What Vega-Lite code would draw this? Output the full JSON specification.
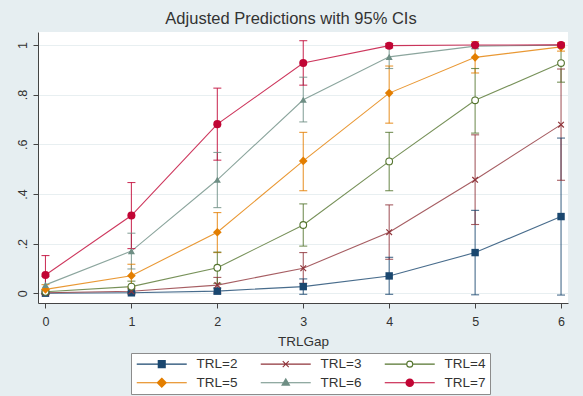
{
  "$schema": "https://vega.github.io/schema/vega-lite/v6.json",
  "autosize": "none",
  "width": 530,
  "height": 271,
  "padding": {"left": 38, "top": 32, "right": 15, "bottom": 93},
  "background": "#E6EEF1",
  "title": {
    "text": "Adjusted Predictions with 95% CIs",
    "fontSize": 16.5,
    "font": "Liberation Sans",
    "fontWeight": "normal",
    "color": "#333333",
    "anchor": "middle",
    "baseline": "alphabetic",
    "dx": -12,
    "dy": 14,
    "offset": 6
  },
  "config": {
    "view": {"fill": "white", "stroke": null},
    "font": "Liberation Sans",
    "axis": {
      "domainColor": "#444444",
      "tickColor": "#444444",
      "labelColor": "#333333",
      "titleColor": "#333333",
      "labelFont": "Liberation Sans",
      "titleFont": "Liberation Sans",
      "titleFontWeight": "normal"
    }
  },
  "data": {
    "values": [
      {"TRL": "TRL=2", "gap": 0, "p": 0.0005, "lo": -0.0005, "hi": 0.0015},
      {"TRL": "TRL=2", "gap": 1, "p": 0.002, "lo": -0.001, "hi": 0.005},
      {"TRL": "TRL=2", "gap": 2, "p": 0.009, "lo": -0.003, "hi": 0.021},
      {"TRL": "TRL=2", "gap": 3, "p": 0.027, "lo": -0.004, "hi": 0.058},
      {"TRL": "TRL=2", "gap": 4, "p": 0.070, "lo": -0.004, "hi": 0.145},
      {"TRL": "TRL=2", "gap": 5, "p": 0.164, "lo": -0.006, "hi": 0.334},
      {"TRL": "TRL=2", "gap": 6, "p": 0.309, "lo": -0.007, "hi": 0.625},
      {"TRL": "TRL=3", "gap": 0, "p": 0.002, "lo": -0.002, "hi": 0.006},
      {"TRL": "TRL=3", "gap": 1, "p": 0.008, "lo": -0.003, "hi": 0.019},
      {"TRL": "TRL=3", "gap": 2, "p": 0.033, "lo": 0.002, "hi": 0.064},
      {"TRL": "TRL=3", "gap": 3, "p": 0.101, "lo": 0.040, "hi": 0.164},
      {"TRL": "TRL=3", "gap": 4, "p": 0.246, "lo": 0.137, "hi": 0.356},
      {"TRL": "TRL=3", "gap": 5, "p": 0.457, "lo": 0.277, "hi": 0.638},
      {"TRL": "TRL=3", "gap": 6, "p": 0.679, "lo": 0.455, "hi": 0.903},
      {"TRL": "TRL=4", "gap": 0, "p": 0.006, "lo": -0.002, "hi": 0.014},
      {"TRL": "TRL=4", "gap": 1, "p": 0.027, "lo": 0.005, "hi": 0.049},
      {"TRL": "TRL=4", "gap": 2, "p": 0.103, "lo": 0.040, "hi": 0.166},
      {"TRL": "TRL=4", "gap": 3, "p": 0.275, "lo": 0.190, "hi": 0.360},
      {"TRL": "TRL=4", "gap": 4, "p": 0.531, "lo": 0.413, "hi": 0.648},
      {"TRL": "TRL=4", "gap": 5, "p": 0.777, "lo": 0.645, "hi": 0.905},
      {"TRL": "TRL=4", "gap": 6, "p": 0.927, "lo": 0.850, "hi": 1.004},
      {"TRL": "TRL=5", "gap": 0, "p": 0.016, "lo": -0.003, "hi": 0.035},
      {"TRL": "TRL=5", "gap": 1, "p": 0.071, "lo": 0.025, "hi": 0.117},
      {"TRL": "TRL=5", "gap": 2, "p": 0.246, "lo": 0.164, "hi": 0.325},
      {"TRL": "TRL=5", "gap": 3, "p": 0.533, "lo": 0.413, "hi": 0.648},
      {"TRL": "TRL=5", "gap": 4, "p": 0.806, "lo": 0.685, "hi": 0.915},
      {"TRL": "TRL=5", "gap": 5, "p": 0.950, "lo": 0.887, "hi": 1.013},
      {"TRL": "TRL=5", "gap": 6, "p": 0.992, "lo": 0.975, "hi": 1.009},
      {"TRL": "TRL=6", "gap": 0, "p": 0.034, "lo": 0.000, "hi": 0.068},
      {"TRL": "TRL=6", "gap": 1, "p": 0.170, "lo": 0.098, "hi": 0.242},
      {"TRL": "TRL=6", "gap": 2, "p": 0.457, "lo": 0.345, "hi": 0.567},
      {"TRL": "TRL=6", "gap": 3, "p": 0.779, "lo": 0.690, "hi": 0.870},
      {"TRL": "TRL=6", "gap": 4, "p": 0.952, "lo": 0.905, "hi": 0.999},
      {"TRL": "TRL=6", "gap": 5, "p": 0.995, "lo": 0.985, "hi": 1.005},
      {"TRL": "TRL=6", "gap": 6, "p": 0.999, "lo": 0.996, "hi": 1.002},
      {"TRL": "TRL=7", "gap": 0, "p": 0.074, "lo": -0.004, "hi": 0.152},
      {"TRL": "TRL=7", "gap": 1, "p": 0.313, "lo": 0.180, "hi": 0.446},
      {"TRL": "TRL=7", "gap": 2, "p": 0.681, "lo": 0.536, "hi": 0.826},
      {"TRL": "TRL=7", "gap": 3, "p": 0.927, "lo": 0.838, "hi": 1.017},
      {"TRL": "TRL=7", "gap": 4, "p": 0.997, "lo": 0.988, "hi": 1.006},
      {"TRL": "TRL=7", "gap": 5, "p": 0.9995, "lo": 0.998, "hi": 1.001},
      {"TRL": "TRL=7", "gap": 6, "p": 1.0, "lo": 0.9995, "hi": 1.0005}
    ]
  },
  "encoding": {
    "x": {
      "field": "gap",
      "type": "quantitative",
      "scale": {"domain": [-0.087, 6.081], "nice": false, "zero": false},
      "axis": {
        "title": "TRLGap",
        "values": [0, 1, 2, 3, 4, 5, 6],
        "format": "d",
        "grid": false,
        "tickSize": 5,
        "labelFontSize": 12.5,
        "labelPadding": 7,
        "titleFontSize": 13.5,
        "titlePadding": 7
      }
    }
  },
  "layer": [
    {
      "mark": {"type": "line", "strokeWidth": 1.1, "opacity": 0.8},
      "encoding": {
        "y": {
          "field": "p",
          "type": "quantitative",
          "scale": {"domain": [-0.039, 1.052], "nice": false, "zero": false},
          "axis": {
            "title": null,
            "values": [0, 0.2, 0.4, 0.6, 0.8, 1],
            "labelExpr": "datum.value > 0 && datum.value < 1 ? '.' + format(datum.value * 10, '.0f') : format(datum.value, '.0f')",
            "grid": true,
            "gridColor": "#E8EFF1",
            "gridWidth": 1,
            "tickSize": 5,
            "labelAngle": -90,
            "labelAlign": "center",
            "labelBaseline": "alphabetic",
            "labelFontSize": 12.5,
            "labelPadding": 7
          }
        },
        "color": {
          "field": "TRL",
          "type": "nominal",
          "scale": {
            "domain": ["TRL=7", "TRL=6", "TRL=5", "TRL=4", "TRL=3", "TRL=2"],
            "range": ["#C10534", "#6E8E84", "#E37E00", "#55752F", "#90353B", "#1A476F"]
          },
          "legend": null
        }
      }
    },
    {
      "mark": {"type": "rule", "strokeWidth": 1.1, "opacity": 0.8},
      "encoding": {
        "y": {"field": "lo", "type": "quantitative"},
        "y2": {"field": "hi"},
        "color": {"field": "TRL", "type": "nominal", "legend": null}
      }
    },
    {
      "mark": {"type": "tick", "orient": "horizontal", "size": 8, "thickness": 1.1, "opacity": 0.8},
      "encoding": {
        "y": {"field": "lo", "type": "quantitative"},
        "color": {"field": "TRL", "type": "nominal", "legend": null}
      }
    },
    {
      "mark": {"type": "tick", "orient": "horizontal", "size": 8, "thickness": 1.1, "opacity": 0.8},
      "encoding": {
        "y": {"field": "hi", "type": "quantitative"},
        "color": {"field": "TRL", "type": "nominal", "legend": null}
      }
    },
    {
      "transform": [{"filter": "datum.TRL === 'TRL=2'"}],
      "mark": {"type": "point", "shape": "square", "filled": true, "opacity": 1, "size": 55},
      "encoding": {
        "y": {"field": "p", "type": "quantitative"},
        "color": {"field": "TRL", "type": "nominal", "legend": null}
      }
    },
    {
      "transform": [{"filter": "datum.TRL === 'TRL=3'"}],
      "mark": {"type": "point", "shape": "M-1,-1L1,1M-1,1L1,-1", "filled": false, "opacity": 1, "size": 32, "strokeWidth": 1.2},
      "encoding": {
        "y": {"field": "p", "type": "quantitative"},
        "color": {"field": "TRL", "type": "nominal", "legend": null}
      }
    },
    {
      "transform": [{"filter": "datum.TRL === 'TRL=4'"}],
      "mark": {"type": "point", "shape": "circle", "filled": false, "fill": "white", "opacity": 1, "size": 45, "strokeWidth": 1.1},
      "encoding": {
        "y": {"field": "p", "type": "quantitative"},
        "color": {"field": "TRL", "type": "nominal", "legend": null}
      }
    },
    {
      "transform": [{"filter": "datum.TRL === 'TRL=5'"}],
      "mark": {"type": "point", "shape": "diamond", "filled": true, "opacity": 1, "size": 75},
      "encoding": {
        "y": {"field": "p", "type": "quantitative"},
        "color": {"field": "TRL", "type": "nominal", "legend": null}
      }
    },
    {
      "transform": [{"filter": "datum.TRL === 'TRL=6'"}],
      "mark": {"type": "point", "shape": "triangle-up", "filled": true, "opacity": 1, "size": 50},
      "encoding": {
        "y": {"field": "p", "type": "quantitative"},
        "color": {"field": "TRL", "type": "nominal", "legend": null}
      }
    },
    {
      "transform": [{"filter": "datum.TRL === 'TRL=7'"}],
      "mark": {"type": "point", "shape": "circle", "filled": true, "opacity": 1, "size": 65},
      "encoding": {
        "y": {"field": "p", "type": "quantitative"},
        "color": {"field": "TRL", "type": "nominal", "legend": null}
      }
    },
    {
      "mark": {"type": "point", "filled": true, "opacity": 0},
      "encoding": {
        "y": {"field": "p", "type": "quantitative"},
        "fill": {
          "field": "TRL",
          "type": "nominal",
          "scale": {
            "domain": ["TRL=2", "TRL=3", "TRL=4", "TRL=5", "TRL=6", "TRL=7"],
            "range": ["#1A476F", "#90353B", "#55752F", "#E37E00", "#6E8E84", "#C10534"]
          },
          "legend": {
            "title": null,
            "orient": "none",
            "legendX": 93,
            "legendY": 321,
            "direction": "horizontal",
            "columns": 3,
            "columnPadding": 20,
            "rowPadding": 4,
            "padding": 4,
            "strokeColor": "#8C8C8C",
            "fillColor": "white",
            "symbolSize": 100,
            "symbolOpacity": 1,
            "symbolStrokeWidth": 1.1,
            "labelOffset": 48,
            "labelFontSize": 13.5,
            "labelFont": "Liberation Sans",
            "labelColor": "#333333"
          }
        },
        "stroke": {
          "field": "TRL",
          "type": "nominal",
          "scale": {
            "domain": ["TRL=2", "TRL=3", "TRL=4", "TRL=5", "TRL=6", "TRL=7"],
            "range": ["#1A476F", "#90353B", "#55752F", "#E37E00", "#6E8E84", "#C10534"]
          }
        },
        "shape": {
          "field": "TRL",
          "type": "nominal",
          "scale": {
            "domain": ["TRL=2", "TRL=3", "TRL=4", "TRL=5", "TRL=6", "TRL=7"],
            "range": [
              "M-1,0L9,0M3.3,-0.7L4.7,-0.7L4.7,0.7L3.3,0.7ZM3.3,-0.5L4.7,-0.5M3.3,-0.3L4.7,-0.3M3.3,-0.1L4.7,-0.1M3.3,0.1L4.7,0.1M3.3,0.3L4.7,0.3M3.3,0.5L4.7,0.5",
              "M-1,0L9,0M3.4,-0.6L4.6,0.6M3.4,0.6L4.6,-0.6",
              "M-1,0L3.4,0M4.6,0L9,0M3.4,0A0.6,0.6,0,1,1,4.6,0A0.6,0.6,0,1,1,3.4,0Z",
              "M-1,0L9,0M4,-0.9L4.9,0L4,0.9L3.1,0ZM3.7,-0.6L4.3,-0.6M3.5,-0.4L4.5,-0.4M3.3,-0.2L4.7,-0.2M3.3,0.2L4.7,0.2M3.5,0.4L4.5,0.4M3.7,0.6L4.3,0.6",
              "M-1,0L9,0M4,-0.8L4.75,0.5L3.25,0.5ZM3.89,-0.6L4.11,-0.6M3.77,-0.4L4.23,-0.4M3.65,-0.2L4.35,-0.2M3.42,0.2L4.58,0.2M3.31,0.4L4.69,0.4",
              "M-1,0L9,0M3.25,0A0.75,0.75,0,1,1,4.75,0A0.75,0.75,0,1,1,3.25,0ZM3.55,-0.6L4.45,-0.6M3.37,-0.4L4.63,-0.4M3.28,-0.2L4.72,-0.2M3.28,0.2L4.72,0.2M3.37,0.4L4.63,0.4M3.55,0.6L4.45,0.6"
            ]
          }
        }
      }
    }
  ]
}
